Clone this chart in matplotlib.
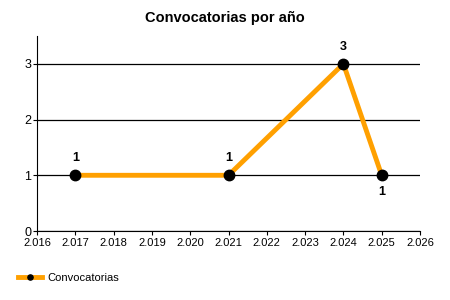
import matplotlib
matplotlib.use("Agg")
import matplotlib.pyplot as plt
from matplotlib.ticker import FuncFormatter

years = [2017, 2021, 2024, 2025]
counts = [1, 1, 3, 1]
label_pos = ["above", "above", "above", "below"]
series_name = "Convocatorias"
title = "Convocatorias por año"

plt.rcParams['font.family'] = ['Liberation Sans', 'DejaVu Sans']

fig = plt.figure(figsize=(4.5, 3.0), dpi=100)
ax = fig.add_axes([37/450, 1-231/300, (420-37)/450, (231-36)/300])

ax.plot(years, counts, color='#FFA000', lw=3.5, marker='o', ms=7.5,
        mfc='black', mec='black', label=series_name, zorder=3, clip_on=False)

for x, y, p in zip(years, counts, label_pos):
    off = 8 if p == "above" else -8
    ax.annotate(str(y), (x, y), xytext=(0, off), textcoords='offset points',
                ha='center', va='bottom' if p == "above" else 'top',
                fontsize=9, fontweight='bold')

ax.set_xlim(2016, 2026)
ax.set_ylim(0, 3.5)
ax.set_xticks(range(2016, 2027))
ax.set_yticks([0, 1, 2, 3])
ax.xaxis.set_major_formatter(FuncFormatter(lambda v, p: f"{int(v)//1000}.{int(v)%1000:03d}"))
ax.grid(axis='y', color='black', lw=0.9)
ax.set_axisbelow(True)
for s in ['top', 'right']:
    ax.spines[s].set_visible(False)
ax.tick_params(axis='x', labelsize=8, length=3, pad=2)
ax.tick_params(axis='y', labelsize=9, length=3, pad=1)

fig.text(0.5, 1-18/300, title, ha='center', va='center', fontsize=10.5, fontweight='bold')

fig.legend(loc='lower left', bbox_to_anchor=(8/450, 7/300), frameon=False,
           fontsize=8, handlelength=2.2, markerscale=0.5, handletextpad=0.4)

fig.savefig('out.png', dpi=100)
